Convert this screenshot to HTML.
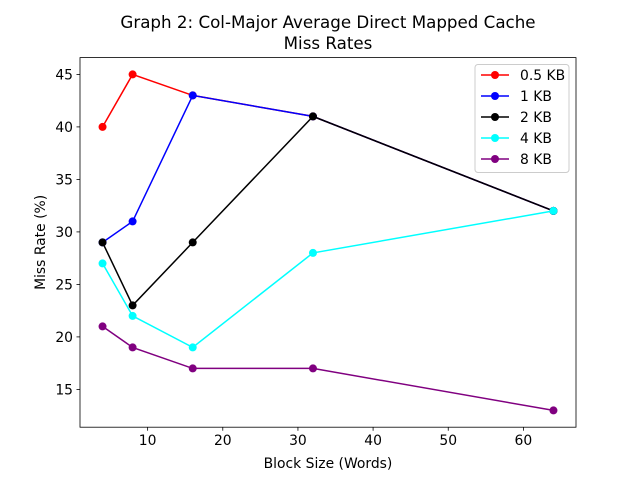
<!DOCTYPE html>
<html><head><meta charset="utf-8"><style>body{margin:0;background:#fff}svg text{font-family:"DejaVu Sans","Liberation Sans",sans-serif;fill:#000}</style></head>
<body>
<svg id="chart" width="640" height="480" xmlns="http://www.w3.org/2000/svg"></svg>
<script>
const blockSizes = [4, 8, 16, 32, 64];
const seriesNames = ["0.5 KB", "1 KB", "2 KB", "4 KB", "8 KB"];
const seriesColors = ["red", "blue", "black", "cyan", "purple"];
const s05 = [40, 45, 43, 41, 32];
const s1 = [29, 31, 43, 41, 32];
const s2 = [29, 23, 29, 41, 32];
const s4 = [27, 22, 19, 28, 32];
const s8 = [21, 19, 17, 17, 13];
const seriesValues = [s05, s1, s2, s4, s8];
const xTicks = [10, 20, 30, 40, 50, 60];
const yTicks = [15, 20, 25, 30, 35, 40, 45];

const NS = "http://www.w3.org/2000/svg";
const svg = document.getElementById("chart");
const L = 80, R = 576, T = 57.6, B = 427.2;
const xmin = Math.min(...blockSizes), xmax = Math.max(...blockSizes);
const allV = seriesValues.flat();
const ymin = Math.min(...allV), ymax = Math.max(...allV);
const xl = xmin - (xmax - xmin) * 0.05, xh = xmax + (xmax - xmin) * 0.05;
const yl = ymin - (ymax - ymin) * 0.05, yh = ymax + (ymax - ymin) * 0.05;
const X = v => L + (v - xl) / (xh - xl) * (R - L);
const Y = v => B - (v - yl) / (yh - yl) * (B - T);
function mk(tag, attrs, parent) {
  const e = document.createElementNS(NS, tag);
  for (const k in attrs) e.setAttribute(k, attrs[k]);
  (parent || svg).appendChild(e);
  return e;
}
const FS = 13.9, TS = 16.7;
const t1 = mk("text", {x: 328, y: 28, "text-anchor": "middle", "font-size": TS});
t1.textContent = "Graph 2: Col-Major Average Direct Mapped Cache";


const t2 = mk("text", {x: 328, y: 49, "text-anchor": "middle", "font-size": TS});
t2.textContent = "Miss Rates";


xTicks.forEach(v => {
  const g = mk("g", {});
  
  
  mk("line", {x1: X(v), x2: X(v), y1: B, y2: B + 3.5, stroke: "#000", "stroke-width": 0.8}, g);
  const tx = mk("text", {x: X(v), y: B + 18, "text-anchor": "middle", "font-size": FS}, g);
  tx.textContent = v;
});
yTicks.forEach(v => {
  const g = mk("g", {});
  
  
  mk("line", {x1: L - 3.5, x2: L, y1: Y(v), y2: Y(v), stroke: "#000", "stroke-width": 0.8}, g);
  const tx = mk("text", {x: L - 7, y: Y(v) + 5, "text-anchor": "end", "font-size": FS}, g);
  tx.textContent = v;
});
const xt = mk("text", {x: 328, y: 468, "text-anchor": "middle", "font-size": FS});
xt.textContent = "Block Size (Words)";


const yt = mk("text", {x: 0, y: 0, "text-anchor": "middle", "font-size": FS, transform: `translate(45,${(T+B)/2}) rotate(-90)`});
yt.textContent = "Miss Rate (%)";


seriesValues.forEach((vals, i) => {
  const g = mk("g", {});
  
  
  const pts = vals.map((v, j) => X(blockSizes[j]) + "," + Y(v)).join(" ");
  mk("polyline", {points: pts, fill: "none", stroke: seriesColors[i], "stroke-width": 1.5}, g);
  vals.forEach((v, j) => {
    const c = mk("circle", {cx: X(blockSizes[j]), cy: Y(v), r: 4, fill: seriesColors[i]}, g);
    
    
  });
});
const fr = mk("rect", {x: L, y: T, width: R - L, height: B - T, fill: "none", stroke: "#000", "stroke-width": 0.8});


const lg = mk("g", {});


mk("rect", {x: 475, y: 64.5, width: 94, height: 108, rx: 3, fill: "#fff", "fill-opacity": 0.8, stroke: "#ccc", "stroke-width": 1}, lg);
seriesNames.forEach((n, i) => {
  const y = 75 + i * 21;
  const e = mk("g", {}, lg);
  
  
  mk("line", {x1: 481, x2: 509, y1: y, y2: y, stroke: seriesColors[i], "stroke-width": 1.5}, e);
  mk("circle", {cx: 495, cy: y, r: 4, fill: seriesColors[i]}, e);
  const tx = mk("text", {x: 520, y: y + 5, "font-size": FS}, e);
  tx.textContent = n;
});
</script>
</body></html>
